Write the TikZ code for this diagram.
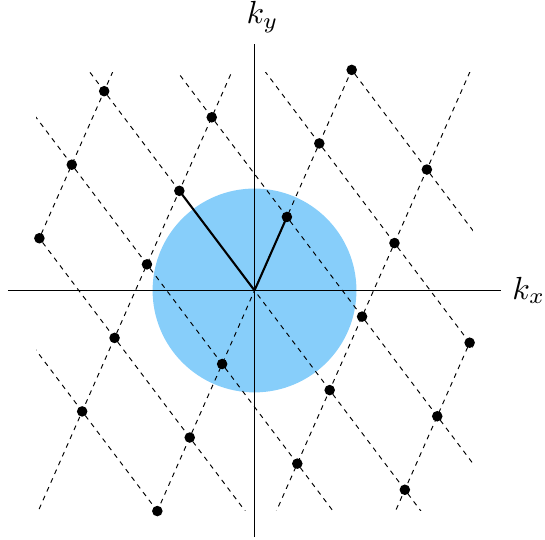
\documentclass[tikz,border=0pt]{standalone}
\usepackage{xcolor}
\usepackage{amsmath}
\usepackage{tikz}
\usetikzlibrary{calc}
\definecolor{fermiblue}{RGB}{135,206,250}

\begin{document}
\begin{tikzpicture}[
    font=\normalsize,
    axisline/.style={black, line width=0.4pt},
    latline/.style={black, line width=0.3pt, dash pattern=on 1.5pt off 1.5pt},
    vecline/.style={black, line width=0.65pt},
    latdot/.style={circle, fill=black, inner sep=0pt, minimum size=3.3pt}
]

% ---------- parameters ----------
\def\ax{0.356}
\def\ay{0.808}
\def\cx{-0.826}
\def\cy{1.095}
\def\rF{1.12}
\def\L{2.71}
% lattice point (m,n) sits at m*(ax,ay) + n*(cx,cy)
% lines are clipped to the box [-2.40,2.40] x [-2.42,2.40]

\useasboundingbox (-2.797,-2.742) rectangle (3.192,3.192);

% ---------- filled disc ----------
\fill[fermiblue] (0,0) circle (\rF);

% ---------- dashed lattice lines ----------
\begin{scope}
    \clip (-2.40,-2.42) rectangle (2.40,2.40);
    \foreach \n in {-2,...,2}{
        \draw[latline] ({-6*\ax+\n*\cx},{-6*\ay+\n*\cy}) -- ({6*\ax+\n*\cx},{6*\ay+\n*\cy});
    }
    \foreach \m in {-3,...,3}{
        \draw[latline] ({\m*\ax-4*\cx},{\m*\ay-4*\cy}) -- ({\m*\ax+4*\cx},{\m*\ay+4*\cy});
    }
\end{scope}

% ---------- axes ----------
\coordinate (O) at (0,0);
\coordinate (xl) at (-\L,0);
\coordinate (xr) at (\L,0);
\coordinate (yb) at (0,-\L);
\coordinate (yt) at (0,\L);
\draw[axisline] (xl) -- (xr) node[right] (kx) {$k_x$};
\draw[axisline] (yb) -- (yt) node[above, xshift=2.5pt] (ky) {$k_y$};

% ---------- lattice points ----------
\foreach \m/\n in {3/0, 2/0, 1/0, -1/0, -2/0, -3/0,
                   1/1, 0/1, -1/1, -2/1, -3/1,
                   0/2, -1/2, -2/2,
                   3/-1, 2/-1, 1/-1, 0/-1, -1/-1,
                   2/-2, 1/-2, 0/-2}{
    \node[latdot] (dot\m\n) at ({\m*\ax+\n*\cx},{\m*\ay+\n*\cy}) {};
}

% ---------- basis vectors ----------
\draw[vecline] (O) -- (dot10.center);
\draw[vecline] (O) -- (dot01.center);

\end{tikzpicture}
\end{document}
